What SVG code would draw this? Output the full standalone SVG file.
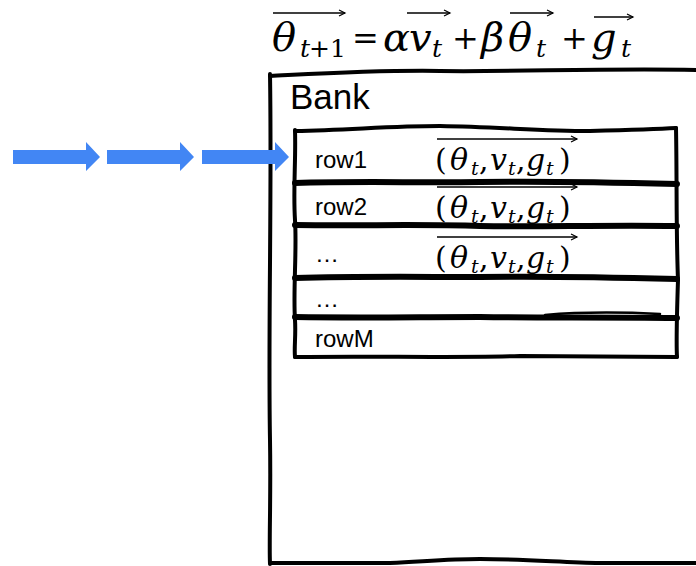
<svg xmlns="http://www.w3.org/2000/svg" width="696" height="566" viewBox="0 0 696 566">
  <defs>
    <style>
      .ink { fill: none; stroke: #000; stroke-linecap: round; stroke-linejoin: round; }
      .edge { stroke-width: 4; }
      .sep { stroke-width: 6; }
      .label { font-family: "Liberation Sans", Arial, sans-serif; fill: #000; }
      .math { font-family: "DejaVu Serif", "Liberation Serif", serif; fill: #000; }
      .var { font-style: italic; }
      .vec { stroke: #000; stroke-width: 1.4; fill: none; marker-end: url(#vecHead); }
      .flow { fill: #4286F4; }
    </style>
    <marker id="vecHead" markerWidth="10" markerHeight="8" refX="7" refY="4" orient="auto" markerUnits="userSpaceOnUse">
      <path d="M1,1 L7,4 L1,7" fill="none" stroke="#000" stroke-width="1.2"/>
    </marker>
    <!-- row tuple with its over-arrow, reused in rows 1-3 -->
    <g id="tuple">
      <line class="vec" x1="437" y1="0" x2="577" y2="0"/>
      <text class="math" font-size="30" y="31">
        <tspan x="435">(</tspan><tspan class="var" x="450">θ</tspan><tspan class="var" font-size="19" x="471" dy="5">t</tspan><tspan x="479" dy="-5">,</tspan><tspan class="var" x="490">v</tspan><tspan class="var" font-size="19" x="508" dy="5">t</tspan><tspan x="516" dy="-5">,</tspan><tspan class="var" x="526">g</tspan><tspan class="var" font-size="19" x="546" dy="5">t</tspan><tspan x="559" dy="-5">)</tspan>
      </text>
    </g>
  </defs>

  <rect width="696" height="566" fill="#fff"/>

  <!-- update rule -->
  <g id="formula">
    <line class="vec" x1="273" y1="13" x2="345" y2="13"/>
    <line class="vec" x1="407" y1="13" x2="450" y2="13"/>
    <line class="vec" x1="510" y1="13" x2="553" y2="13"/>
    <line class="vec" x1="594" y1="17" x2="633" y2="17"/>
    <text class="math" font-size="40" y="51">
      <tspan class="var" x="272">θ</tspan><tspan class="var" font-size="25" x="300" dy="6">t</tspan><tspan font-size="25" x="309">+1</tspan><tspan font-size="32" x="352" dy="-8">=</tspan><tspan class="var" x="383" dy="2">α</tspan><tspan class="var" x="409">v</tspan><tspan class="var" font-size="25" x="432" dy="6">t</tspan><tspan font-size="32" x="452" dy="-8">+</tspan><tspan class="var" x="481" dy="2">β</tspan><tspan class="var" x="508">θ</tspan><tspan class="var" font-size="25" x="536" dy="6">t</tspan><tspan font-size="32" x="561" dy="-8">+</tspan><tspan class="var" x="591" dy="2">g</tspan><tspan class="var" font-size="25" x="621" dy="6">t</tspan>
    </text>
  </g>

  <!-- outer bank container -->
  <g id="bank">
    <path class="ink edge" d="M270,76 C330,73 380,70 440,71 C520,72 600,68 700,70"/>
    <path class="ink edge" d="M270,74 C272,200 268,330 270,440 C271,500 269,540 270,564"/>
    <path class="ink edge" d="M270,563 L390,563 C430,561 450,559 480,559 C520,559 560,562 600,563 L700,563"/>
    <text class="label" x="290" y="109" font-size="35">Bank</text>
  </g>

  <!-- table rows -->
  <g id="rows">
    <g id="row1">
      <text class="label" x="315" y="168" font-size="24">row1</text>
      <use href="#tuple" y="139"/>
    </g>
    <g id="row2">
      <text class="label" x="315" y="215" font-size="24">row2</text>
      <use href="#tuple" y="187"/>
    </g>
    <g id="row3">
      <text class="label" x="315" y="262" font-size="24">…</text>
      <use href="#tuple" y="237"/>
    </g>
    <g id="row4">
      <text class="label" x="315" y="307" font-size="24">…</text>
    </g>
    <g id="rowM">
      <text class="label" x="315" y="347" font-size="24">rowM</text>
    </g>
    <!-- frame of the row block -->
    <path class="ink edge" d="M295,131 C350,130 390,126 440,126 C500,127 540,131 590,131 C630,130 660,129 676,128"/>
    <path class="ink edge" d="M295,130 C296,160 293,190 295,220 C297,250 293,290 295,320 C296,335 294,348 295,357"/>
    <path class="ink edge" d="M676,128 C677,180 676,230 678,280 C677,310 676,340 677,357"/>
    <path class="ink edge" d="M295,357 C380,356 450,358 520,356 C590,356 640,357 677,357"/>
    <!-- row separators -->
    <path class="ink sep" d="M295,183 C360,181 420,183 480,182 C540,181 600,182 677,184"/>
    <path class="ink sep" d="M295,225 C360,226 420,224 480,226 C540,227 600,225 677,226"/>
    <path class="ink sep" d="M295,278 C360,276 420,277 480,277 C540,276 600,277 677,279"/>
    <path class="ink sep" d="M295,317 C360,318 420,317 480,317 C540,318 600,317 677,318"/>
    <path class="ink" stroke-width="2.5" d="M545,315 C580,312 620,312 660,314"/>
  </g>

  <!-- incoming flow -->
  <g id="connectors">
    <path class="flow" d="M13,150 H86 V142 L100,157 L86,171 V164 H13 Z"/>
    <path class="flow" d="M107,150 H180 V142 L194,157 L180,171 V164 H107 Z"/>
    <path class="flow" d="M202,150 H275 V142 L289,157 L275,171 V164 H202 Z"/>
  </g>
</svg>
